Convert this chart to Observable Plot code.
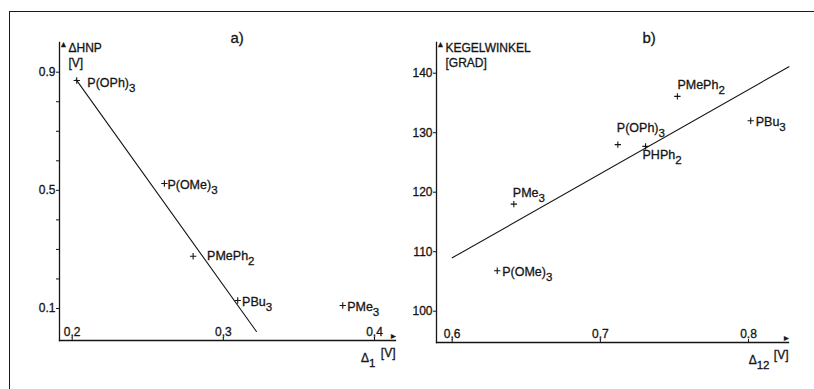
<!DOCTYPE html>
<html><head><meta charset="utf-8">
<script src="https://cdn.jsdelivr.net/npm/d3@7"></script>
<script src="https://cdn.jsdelivr.net/npm/@observablehq/plot@0.6"></script>
<style>
body{margin:0;background:#fff;}
#wrap{position:relative;width:814px;height:389px;overflow:hidden;background:#fff;}
#border{position:absolute;left:9px;top:11px;width:820px;height:400px;border-left:1.3px solid #1a1a1a;border-top:1.3px solid #1a1a1a;}
.panel{position:absolute;top:0;}
.panel text{stroke:#151515;stroke-width:0.3px;}
</style></head><body>
<div id="wrap"><div id="border"></div></div>
<script>
// ---------- Panel a) ----------
const namesA = ["P(OPh)3", "P(OMe)3", "PMePh2", "PBu3", "PMe3"];
const delta1 = [0.203, 0.261, 0.280, 0.3095, 0.379];
const dHNP = [0.872, 0.523, 0.277, 0.127, 0.110];
const fitAx = [0.2026, 0.3219];
const fitAy = [0.875, 0.022];
const xTicksA = [0.2, 0.3, 0.4];
const xTickLabelsA = ["0,2", "0,3", "0,4"];
const yTicksA = [0.1, 0.2, 0.3, 0.4, 0.5, 0.6, 0.7, 0.8, 0.9];
const yTickLabelsA = ["0.1", "", "", "", "0.5", "", "", "", "0.9"];
const titleA = "a)";
const yTitleA = ["ΔHNP", "[V]"];
const xTitleA = ["Δ1", "[V]"];

// ---------- Panel b) ----------
const namesB = ["PMePh2", "PBu3", "P(OPh)3", "PHPh2", "PMe3", "P(OMe)3"];
const delta12 = [0.752, 0.8015, 0.7118, 0.7305, 0.6416, 0.6304];
const kegel = [136.1, 132.0, 128.0, 127.7, 118.0, 106.8];
const fitBx = [0.600, 0.8273];
const fitBy = [108.97, 141.1];
const xTicksB = [0.6, 0.7, 0.8];
const xTickLabelsB = ["0,6", "0,7", "0.8"];
const yTicksB = [100, 110, 120, 130, 140];
const yTickLabelsB = ["100", "110", "120", "130", "140"];
const titleB = "b)";
const yTitleB = ["KEGELWINKEL", "[GRAD]"];
const xTitleB = ["Δ12", "[V]"];

// label offsets (layout only)
const offA = [[10.6, 3], [3, 1], [14, 0], [4.4, 1], [4.4, 1]];
const offB = [[0, -11], [5, 1], [-1, -17], [-3, 9], [-1, -11], [5, 1]];

const ink = "#151515";
const font = "Liberation Sans";

function panel(opts) {
  const {names, xs, ys, fx, fy, xTicks, xTickLabels, yTicks, yTickLabels, title, yTitle, xTitle, off,
         width, mL, mT, mR, mB, xDomain, xRange, yDomain, yRange, titleDx, xTitleDx} = opts;
  const frameH = 389 - mT - mB;
  const pts = names.map((n, i) => ({name: n, x: xs[i], y: ys[i]}));
  const fit = fx.map((v, i) => ({x: v, y: fy[i]}));
  const marks = [
    Plot.frame({anchor: "left", stroke: ink, strokeWidth: 1.3}),
    Plot.frame({anchor: "bottom", stroke: ink, strokeWidth: 1.3}),
    Plot.text(["▲"], {frameAnchor: "top-left", lineAnchor: "middle", dy: 2, fontSize: 8, fill: ink}),
    Plot.text(["▲"], {frameAnchor: "bottom-right", lineAnchor: "middle", rotate: 90, dx: -2, fontSize: 8, fill: ink}),
    Plot.axisY(yTicks, {label: null, tickSize: 3, tickPadding: 1, fontSize: 12, tickFormat: d => yTickLabels[yTicks.indexOf(d)], stroke: ink, fill: ink}),
    Plot.tickX(xTicks, {x: d => d, insetTop: frameH - 3, stroke: ink}),
    Plot.text(xTicks, {x: d => d, frameAnchor: "bottom", lineAnchor: "middle", dy: -8, text: (d, i) => xTickLabels[i], fontSize: 12, fill: ink}),
    Plot.line(fit, {x: "x", y: "y", stroke: ink, strokeWidth: 1.1}),
    Plot.dot(pts, {x: "x", y: "y", symbol: "plus", r: 2.2, stroke: ink, strokeWidth: 1.1}),
    ...pts.map((p, i) => Plot.text([p], {x: "x", y: "y", text: "name", textAnchor: "start", dx: off[i][0], dy: off[i][1], fontSize: 12.5, fill: ink})),
    Plot.text([title], {frameAnchor: "top-left", lineAnchor: "middle", dx: titleDx, dy: -4, fontSize: 15, fill: ink}),
    Plot.text([yTitle[0]], {frameAnchor: "top-left", lineAnchor: "middle", dx: 9, dy: 6, textAnchor: "start", fontSize: 12, fill: ink}),
    Plot.text([yTitle[1]], {frameAnchor: "top-left", lineAnchor: "middle", dx: 9, dy: 21, textAnchor: "start", fontSize: 12, fill: ink}),
    Plot.text([xTitle[0]], {frameAnchor: "bottom-right", lineAnchor: "middle", dx: xTitleDx, dy: 18, textAnchor: "end", fontSize: 12, fill: ink}),
    Plot.text([xTitle[1]], {frameAnchor: "bottom-right", lineAnchor: "middle", dx: 0, dy: 13, textAnchor: "end", fontSize: 12, fill: ink})
  ];
  return Plot.plot({
    width, height: 389, marginLeft: mL, marginTop: mT, marginRight: mR, marginBottom: mB,
    x: {domain: xDomain, range: xRange, axis: null, label: null},
    y: {domain: yDomain, range: yRange, label: null},
    style: {fontFamily: font, fontSize: "12px", color: ink, background: "transparent", overflow: "visible"},
    marks
  });
}

function subscriptify(svg) {
  svg.querySelectorAll("text").forEach(t => {
    if (t.querySelector("tspan")) return;
    const s = t.textContent;
    if (!/[A-Za-zΔ)]\d/.test(s)) return;
    const parts = s.split(/(?<=[A-Za-zΔ)])(\d+)/);
    t.textContent = "";
    parts.forEach((p, i) => {
      if (!p) return;
      const ts = document.createElementNS("http://www.w3.org/2000/svg", "tspan");
      ts.textContent = p;
      if (i % 2 === 1) { ts.setAttribute("dy", "5"); ts.setAttribute("font-size", "11.5"); }
      else if (i > 0) { ts.setAttribute("dy", "-5"); }
      t.appendChild(ts);
    });
  });
}

const a = panel({
  names: namesA, xs: delta1, ys: dHNP, fx: fitAx, fy: fitAy,
  xTicks: xTicksA, xTickLabels: xTickLabelsA, yTicks: yTicksA, yTickLabels: yTickLabelsA,
  title: titleA, yTitle: yTitleA, xTitle: xTitleA, off: offA,
  width: 400, mL: 59, mT: 42, mR: 5, mB: 49,
  xDomain: [0.2, 0.4], xRange: [71.7, 374], yDomain: [0.1, 0.9], yRange: [308, 71.7],
  titleDx: 171, xTitleDx: -20
});
const b = panel({
  names: namesB, xs: delta12, ys: kegel, fx: fitBx, fy: fitBy,
  xTicks: xTicksB, xTickLabels: xTickLabelsB, yTicks: yTicksB, yTickLabels: yTickLabelsB,
  title: titleB, yTitle: yTitleB, xTitle: xTitleB, off: offB,
  width: 414, mL: 36, mT: 42, mR: 26, mB: 47,
  xDomain: [0.6, 0.8], xRange: [51.7, 348], yDomain: [100, 140], yRange: [310.7, 72.7],
  titleDx: 206, xTitleDx: -19
});
[a, b].forEach((svg, i) => {
  subscriptify(svg);
  svg.classList.add("panel");
  svg.style.position = "absolute";
  svg.style.top = "0px";
  svg.style.left = i === 0 ? "0px" : "400px";
  document.getElementById("wrap").appendChild(svg);
});
</script>
</body></html>
